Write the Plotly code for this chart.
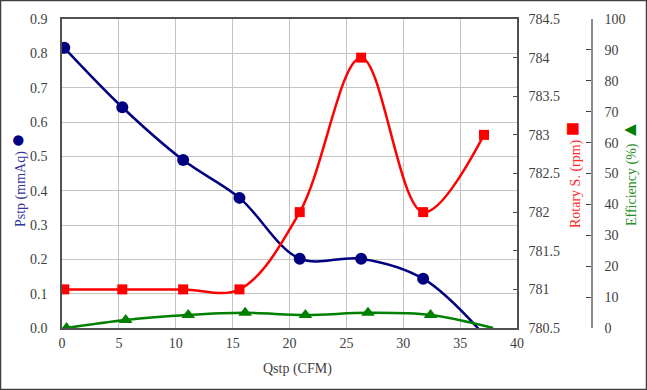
import plotly.graph_objects as go

# ---- data ----
q_stp = [0.2, 5.3, 10.65, 15.6, 20.9, 26.3, 31.75, 37.1]
p_stp = [0.816, 0.643, 0.489, 0.379, 0.202, 0.202, 0.1436, -0.02]
rotary = [781.0, 781.0, 781.0, 781.0, 782.0, 784.0, 782.0, 783.0]
q_eff = [0.4, 5.6, 11.1, 16.1, 21.4, 26.9, 32.4, 37.9]
efficiency = [0.0, 2.6, 4.2, 4.9, 4.2, 4.9, 4.2, 0.0]

x_ticks = list(range(0, 41, 5))

W, H = 647, 390
L, R, T, B = 62, 55, 19, 62
PW = W - L - R
PH = H - T - B


def px(x):
    return (x - L) / PW


def py(y):
    return (H - B - y) / PH


FONT = "Liberation Serif"
TICKC = "#404040"

fig = go.Figure()

fig.add_trace(go.Scatter(
    x=q_stp, y=p_stp, mode="lines+markers", name="Pstp",
    line=dict(color="#000080", width=2.5, shape="spline"),
    marker=dict(symbol="circle", size=12, color="#000080"),
    yaxis="y", cliponaxis=True))

fig.add_trace(go.Scatter(
    x=q_stp, y=rotary, mode="lines+markers", name="Rotary",
    line=dict(color="#ff0000", width=2.5, shape="spline"),
    marker=dict(symbol="square", size=10, color="#ff0000"),
    yaxis="y2", cliponaxis=True))

# last efficiency point (free delivery) is drawn without a visible marker
eff_marker_opacity = [1] * (len(efficiency) - 1) + [0]
fig.add_trace(go.Scatter(
    x=q_eff, y=efficiency, mode="lines+markers", name="Efficiency",
    line=dict(color="#008000", width=2.5, shape="spline"),
    marker=dict(symbol="triangle-up", size=12, color="#008000",
                opacity=eff_marker_opacity),
    yaxis="y3", cliponaxis=True))

xdom_end = (517 - L) / PW

fig.update_layout(
    width=W, height=H,
    margin=dict(l=L, r=R, t=T, b=B, pad=0, autoexpand=False),
    paper_bgcolor="white", plot_bgcolor="white",
    showlegend=False,
    font=dict(family=FONT, size=14, color=TICKC),
    xaxis=dict(
        domain=[0, xdom_end], range=[0, 40], tickvals=x_ticks,
        showgrid=True, gridcolor="#c4c4c4", gridwidth=1,
        showline=True, linecolor="#505050", linewidth=1.5, mirror=True,
        ticks="", ticklabelstandoff=1, zeroline=False, automargin=False,
        tickfont=dict(family=FONT, size=14, color=TICKC)),
    yaxis=dict(
        range=[0, 0.9], dtick=0.1, tickformat=".1f",
        showgrid=True, gridcolor="#c4c4c4", gridwidth=1,
        showline=True, linecolor="#505050", linewidth=1.5,
        ticks="", ticklabelstandoff=10, zeroline=False, automargin=False,
        tickfont=dict(family=FONT, size=14, color=TICKC)),
    yaxis2=dict(
        overlaying="y", side="right", anchor="x",
        range=[780.5, 784.5], dtick=0.5,
        showgrid=False, zeroline=False, automargin=False,
        showline=True, linecolor="#505050", linewidth=1.5,
        ticks="inside", ticklen=4, tickcolor="#505050",
        ticklabelstandoff=7,
        tickfont=dict(family=FONT, size=14, color=TICKC)),
    yaxis3=dict(
        overlaying="y", side="right", anchor="free", position=1.0,
        range=[0, 100], dtick=10,
        showgrid=False, zeroline=False, automargin=False,
        showline=True, linecolor="#8c8c8c", linewidth=1.5,
        ticks="inside", ticklen=5, tickcolor="#404040",
        ticklabelstandoff=9,
        tickfont=dict(family=FONT, size=14, color=TICKC)),
)

ann = []
ann.append(dict(
    text="Qstp (CFM)", x=px(297), y=py(369), xref="paper", yref="paper",
    showarrow=False, font=dict(family=FONT, size=14, color="#404040"),
    xanchor="center", yanchor="middle"))
ann.append(dict(
    text='Pstp (mmAq) <span style="font-size:24px;color:#000080">●</span>',
    x=px(17), y=py(180), xref="paper", yref="paper", textangle=-90,
    showarrow=False, font=dict(family=FONT, size=14, color="#3535a0"),
    xanchor="center", yanchor="middle"))
ann.append(dict(
    text='Rotary S. (rpm) <span style="font-size:24px;color:#ff0000">■</span>',
    x=px(572), y=py(175), xref="paper", yref="paper", textangle=-90,
    showarrow=False, font=dict(family=FONT, size=14, color="#ff2a2a"),
    xanchor="center", yanchor="middle"))
ann.append(dict(
    text='Efficiency (%) <span style="font-size:20px;color:#008000">▲</span>',
    x=px(629), y=py(173), xref="paper", yref="paper", textangle=-90,
    showarrow=False, font=dict(family=FONT, size=14, color="#2a8f2a"),
    xanchor="center", yanchor="middle"))
fig.update_layout(annotations=ann)

fig.add_shape(type="rect", xref="paper", yref="paper",
              x0=px(0.5), x1=px(W - 0.5), y0=py(0.5), y1=py(H - 0.5),
              line=dict(color="#404040", width=1.5), fillcolor="rgba(0,0,0,0)",
              layer="above")

fig.write_html("out.html",
               config={"displayModeBar": False},
               post_script="document.body.style.margin='0px';"
                           "document.body.style.overflow='hidden';")
